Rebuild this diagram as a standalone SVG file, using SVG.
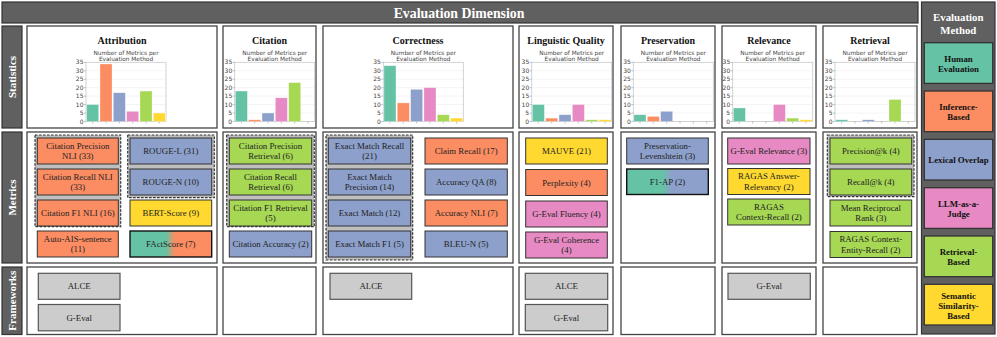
<svg xmlns="http://www.w3.org/2000/svg" xmlns:xlink="http://www.w3.org/1999/xlink" width="997" height="337" viewBox="0 0 997 337">
<style>
.dark{fill:#606060;stroke:#333;stroke-width:1.2}
.lbl{font-family:"Liberation Serif","Times New Roman",serif;font-weight:bold;fill:#fff;text-anchor:middle}
.panel{fill:#fff;stroke:#444;stroke-width:1.3}
.ttl{font-family:"Liberation Serif","Times New Roman",serif;font-weight:bold;font-size:10px;fill:#111;text-anchor:middle}
.ct{font-family:"DejaVu Sans",Verdana,sans-serif;font-size:5.8px;fill:#444;text-anchor:middle}
.tk{font-family:"DejaVu Sans",Verdana,sans-serif;font-size:6px;fill:#444;text-anchor:end}
.grid{stroke:#ececec;stroke-width:0.6}
.frame{fill:none;stroke:#c8c8c8;stroke-width:0.8}
.tick{stroke:#999;stroke-width:0.6}
.bar{stroke:#fff;stroke-opacity:0.45;stroke-width:0.6}
.grp{fill:#bfbfbf;stroke:#333;stroke-width:1.2;stroke-dasharray:2.5 1.5}
.m{stroke:#333;stroke-width:1}
.mt{font-family:"Liberation Serif","Times New Roman",serif;font-size:8.8px;fill:#222;text-anchor:middle}
.fw{fill:#ccc;stroke:#555;stroke-width:1.2}
.lg{stroke:#333;stroke-width:1.3}
.lt{font-family:"Liberation Serif","Times New Roman",serif;font-weight:bold;font-size:8.8px;fill:#111;text-anchor:middle}
.hu{fill:#66c2a5}.in{fill:#fc8d62}.lx{fill:#8da0cb}.lj{fill:#e78ac3}.rb{fill:#a6d854}.ss{fill:#ffd92f}
</style>
<defs>
<linearGradient id="gHuIn" x1="0" y1="0" x2="1" y2="0"><stop offset="0.44" stop-color="#66c2a5"/><stop offset="0.55" stop-color="#fc8d62"/></linearGradient>
<linearGradient id="gHuLx" x1="0" y1="0" x2="1" y2="0"><stop offset="0.44" stop-color="#66c2a5"/><stop offset="0.55" stop-color="#8da0cb"/></linearGradient>
<g id="chart">
<line class="grid" x1="0" x2="80" y1="113.05" y2="113.05"/>
<line class="grid" x1="0" x2="80" y1="104.59" y2="104.59"/>
<line class="grid" x1="0" x2="80" y1="96.14" y2="96.14"/>
<line class="grid" x1="0" x2="80" y1="87.68" y2="87.68"/>
<line class="grid" x1="0" x2="80" y1="79.22" y2="79.22"/>
<line class="grid" x1="0" x2="80" y1="70.77" y2="70.77"/>
<rect class="frame" x="0" y="62.3" width="80" height="59.2"/>
<g class="tick">
<line x1="-2" x2="0" y1="121.5" y2="121.5"/><line x1="-2" x2="0" y1="113.05" y2="113.05"/><line x1="-2" x2="0" y1="104.59" y2="104.59"/><line x1="-2" x2="0" y1="96.14" y2="96.14"/><line x1="-2" x2="0" y1="87.68" y2="87.68"/><line x1="-2" x2="0" y1="79.22" y2="79.22"/><line x1="-2" x2="0" y1="70.77" y2="70.77"/><line x1="-2" x2="0" y1="62.3" y2="62.3"/>
<line x1="6.67" x2="6.67" y1="121.5" y2="123.5"/><line x1="20" x2="20" y1="121.5" y2="123.5"/><line x1="33.33" x2="33.33" y1="121.5" y2="123.5"/><line x1="46.67" x2="46.67" y1="121.5" y2="123.5"/><line x1="60" x2="60" y1="121.5" y2="123.5"/><line x1="73.33" x2="73.33" y1="121.5" y2="123.5"/>
</g>
<text class="tk" x="-2.5" y="123.6">0</text>
<text class="tk" x="-2.5" y="115.1">5</text>
<text class="tk" x="-2.5" y="106.7">10</text>
<text class="tk" x="-2.5" y="98.2">15</text>
<text class="tk" x="-2.5" y="89.8">20</text>
<text class="tk" x="-2.5" y="81.3">25</text>
<text class="tk" x="-2.5" y="72.9">30</text>
<text class="tk" x="-2.5" y="64.4">35</text>
<text class="ct" x="40" y="55.2">Number of Metrics per</text>
<text class="ct" x="40" y="61.4">Evaluation Method</text>
</g>
</defs>

<!-- header and side labels -->
<g id="header">
<rect class="dark" x="2" y="2" width="916" height="21"/>
<text class="lbl" x="459" y="18" font-size="13.8">Evaluation Dimension</text>
</g>
<g id="row-statistics">
<rect class="dark" x="2" y="26" width="20" height="102"/>
<text class="lbl" font-size="11" transform="translate(16,77) rotate(-90)">Statistics</text>
</g>
<g id="row-metrics">
<rect class="dark" x="2" y="132" width="20" height="131"/>
<text class="lbl" font-size="11" transform="translate(16,197.5) rotate(-90)">Metrics</text>
</g>
<g id="row-frameworks">
<rect class="dark" x="2" y="267" width="20" height="67.5"/>
<text class="lbl" font-size="11" transform="translate(16,300.7) rotate(-90)">Frameworks</text>
</g>

<!-- panels -->
<g id="panels">
<rect class="panel" x="27" y="26" width="190" height="102"/>
<rect class="panel" x="223" y="26" width="93" height="102"/>
<rect class="panel" x="323" y="26" width="190" height="102"/>
<rect class="panel" x="519" y="26" width="94" height="102"/>
<rect class="panel" x="621" y="26" width="94" height="102"/>
<rect class="panel" x="722" y="26" width="94" height="102"/>
<rect class="panel" x="823" y="26" width="94" height="102"/>
<rect class="panel" x="27" y="132" width="190" height="131"/>
<rect class="panel" x="223" y="132" width="93" height="131"/>
<rect class="panel" x="323" y="132" width="190" height="131"/>
<rect class="panel" x="519" y="132" width="94" height="131"/>
<rect class="panel" x="621" y="132" width="94" height="131"/>
<rect class="panel" x="722" y="132" width="94" height="131"/>
<rect class="panel" x="823" y="132" width="94" height="131"/>
<rect class="panel" x="27" y="267" width="190" height="67.5"/>
<rect class="panel" x="223" y="267" width="93" height="67.5"/>
<rect class="panel" x="323" y="267" width="190" height="67.5"/>
<rect class="panel" x="519" y="267" width="94" height="67.5"/>
<rect class="panel" x="621" y="267" width="94" height="67.5"/>
<rect class="panel" x="722" y="267" width="94" height="67.5"/>
<rect class="panel" x="823" y="267" width="94" height="67.5"/>
</g>

<!-- statistics -->
<g id="stats-attribution">
<text class="ttl" x="122" y="43.5">Attribution</text>
<g transform="translate(86,0)"><use xlink:href="#chart"/>
<rect class="bar hu" x="0.67" y="104.59" width="12" height="16.91"/>
<rect class="bar in" x="14" y="64.01" width="12" height="57.49"/>
<rect class="bar lx" x="27.33" y="92.75" width="12" height="28.75"/>
<rect class="bar lj" x="40.67" y="111.35" width="12" height="10.15"/>
<rect class="bar rb" x="54" y="91.06" width="12" height="30.44"/>
<rect class="bar ss" x="67.33" y="113.04" width="12" height="8.46"/>
</g></g>
<g id="stats-citation">
<text class="ttl" x="269.5" y="43.5">Citation</text>
<g transform="translate(234.7,0)"><use xlink:href="#chart"/>
<rect class="bar hu" x="0.67" y="91.06" width="12" height="30.44"/>
<rect class="bar in" x="14" y="119.81" width="12" height="1.69"/>
<rect class="bar lx" x="27.33" y="113.04" width="12" height="8.46"/>
<rect class="bar lj" x="40.67" y="97.83" width="12" height="23.67"/>
<rect class="bar rb" x="54" y="82.61" width="12" height="38.89"/>
</g></g>
<g id="stats-correctness">
<text class="ttl" x="418" y="43.5">Correctness</text>
<g transform="translate(383.3,0)"><use xlink:href="#chart"/>
<rect class="bar hu" x="0.67" y="65.7" width="12" height="55.8"/>
<rect class="bar in" x="14" y="102.9" width="12" height="18.6"/>
<rect class="bar lx" x="27.33" y="89.37" width="12" height="32.13"/>
<rect class="bar lj" x="40.67" y="87.68" width="12" height="33.82"/>
<rect class="bar rb" x="54" y="114.74" width="12" height="6.76"/>
<rect class="bar ss" x="67.33" y="118.12" width="12" height="3.38"/>
</g></g>
<g id="stats-linguistic">
<text class="ttl" x="566" y="43.5">Linguistic Quality</text>
<g transform="translate(531.7,0)"><use xlink:href="#chart"/>
<rect class="bar hu" x="0.67" y="104.59" width="12" height="16.91"/>
<rect class="bar in" x="14" y="118.12" width="12" height="3.38"/>
<rect class="bar lx" x="27.33" y="114.74" width="12" height="6.76"/>
<rect class="bar lj" x="40.67" y="104.59" width="12" height="16.91"/>
<rect class="bar rb" x="54" y="119.81" width="12" height="1.69"/>
<rect class="bar ss" x="67.33" y="119.81" width="12" height="1.69"/>
</g></g>
<g id="stats-preservation">
<text class="ttl" x="668" y="43.5">Preservation</text>
<g transform="translate(633.3,0)"><use xlink:href="#chart"/>
<rect class="bar hu" x="0.67" y="114.74" width="12" height="6.76"/>
<rect class="bar in" x="14" y="116.43" width="12" height="5.07"/>
<rect class="bar lx" x="27.33" y="111.35" width="12" height="10.15"/>
</g></g>
<g id="stats-relevance">
<text class="ttl" x="769" y="43.5">Relevance</text>
<g transform="translate(732.7,0)"><use xlink:href="#chart"/>
<rect class="bar hu" x="0.67" y="107.97" width="12" height="13.53"/>
<rect class="bar lj" x="40.67" y="104.59" width="12" height="16.91"/>
<rect class="bar rb" x="54" y="118.12" width="12" height="3.38"/>
<rect class="bar ss" x="67.33" y="119.81" width="12" height="1.69"/>
</g></g>
<g id="stats-retrieval">
<text class="ttl" x="870" y="43.5">Retrieval</text>
<g transform="translate(835,0)"><use xlink:href="#chart"/>
<rect class="bar hu" x="0.67" y="119.81" width="12" height="1.69"/>
<rect class="bar lx" x="27.33" y="119.81" width="12" height="1.69"/>
<rect class="bar rb" x="54" y="99.52" width="12" height="21.98"/>
</g></g>

<!-- dashed groups -->
<g id="groups">
<rect class="grp" x="35" y="135" width="85.7" height="91.7"/>
<rect class="grp" x="127.7" y="135" width="86.6" height="62.7"/>
<rect class="grp" x="226.7" y="135" width="87.6" height="91.7"/>
<rect class="grp" x="326" y="135" width="86.7" height="125"/>
<rect class="grp" x="827.3" y="135" width="86.7" height="61.7"/>
</g>

<!-- metrics: Attribution -->
<g id="m-cit-prec-nli"><rect class="m in" x="37.3" y="138" width="81" height="26"/><text class="mt" x="77.8" y="148.5">Citation Precision</text><text class="mt" x="77.8" y="159">NLI (33)</text></g>
<g id="m-cit-rec-nli"><rect class="m in" x="37.3" y="169" width="81" height="26"/><text class="mt" x="77.8" y="179.5">Citation Recall NLI</text><text class="mt" x="77.8" y="190">(33)</text></g>
<g id="m-cit-f1-nli"><rect class="m in" x="37.3" y="200" width="81" height="26"/><text class="mt" x="77.8" y="216">Citation F1 NLI (16)</text></g>
<g id="m-auto-ais"><rect class="m in" x="37.3" y="231" width="81" height="26"/><text class="mt" x="77.8" y="241.5">Auto-AIS-sentence</text><text class="mt" x="77.8" y="252">(11)</text></g>
<g id="m-rouge-l"><rect class="m lx" x="130" y="138" width="81.7" height="26"/><text class="mt" x="170.8" y="154">ROUGE-L (31)</text></g>
<g id="m-rouge-n"><rect class="m lx" x="130" y="169" width="81.7" height="26"/><text class="mt" x="170.8" y="185">ROUGE-N (10)</text></g>
<g id="m-bertscore"><rect class="m ss" x="130" y="200" width="81.7" height="26"/><text class="mt" x="170.8" y="216">BERT-Score (9)</text></g>
<g id="m-factscore"><rect x="130" y="231" width="81.7" height="26" fill="url(#gHuIn)" stroke="#111" stroke-width="1.4"/><text class="mt" x="170.8" y="247">FActScore (7)</text></g>

<!-- Citation -->
<g id="m-cit-prec-ret"><rect class="m rb" x="229.3" y="138" width="82.4" height="26"/><text class="mt" x="270.5" y="148.5">Citation Precision</text><text class="mt" x="270.5" y="159">Retrieval (6)</text></g>
<g id="m-cit-rec-ret"><rect class="m rb" x="229.3" y="169" width="82.4" height="26"/><text class="mt" x="270.5" y="179.5">Citation Recall</text><text class="mt" x="270.5" y="190">Retrieval (6)</text></g>
<g id="m-cit-f1-ret"><rect class="m rb" x="229.3" y="200" width="82.4" height="26"/><text class="mt" x="270.5" y="210.5">Citation F1 Retrieval</text><text class="mt" x="270.5" y="221">(5)</text></g>
<g id="m-cit-acc"><rect class="m lx" x="229.3" y="231" width="82.4" height="26"/><text class="mt" x="270.5" y="247">Citation Accuracy (2)</text></g>

<!-- Correctness -->
<g id="m-em-recall"><rect class="m lx" x="328.3" y="138" width="82.4" height="26"/><text class="mt" x="369.5" y="148.5">Exact Match Recall</text><text class="mt" x="369.5" y="159">(21)</text></g>
<g id="m-em-prec"><rect class="m lx" x="328.3" y="169" width="82.4" height="26"/><text class="mt" x="369.5" y="179.5">Exact Match</text><text class="mt" x="369.5" y="190">Precision (14)</text></g>
<g id="m-em"><rect class="m lx" x="328.3" y="200" width="82.4" height="26"/><text class="mt" x="369.5" y="216">Exact Match (12)</text></g>
<g id="m-em-f1"><rect class="m lx" x="328.3" y="231" width="82.4" height="26"/><text class="mt" x="369.5" y="247">Exact Match F1 (5)</text></g>
<g id="m-claim-recall"><rect class="m in" x="425" y="138" width="82.3" height="26"/><text class="mt" x="466.2" y="154">Claim Recall (17)</text></g>
<g id="m-acc-qa"><rect class="m lx" x="425" y="169" width="82.3" height="26"/><text class="mt" x="466.2" y="185">Accuracy QA (8)</text></g>
<g id="m-acc-nli"><rect class="m in" x="425" y="200" width="82.3" height="26"/><text class="mt" x="466.2" y="216">Accuracy NLI (7)</text></g>
<g id="m-bleu"><rect class="m lx" x="425" y="231" width="82.3" height="26"/><text class="mt" x="466.2" y="247">BLEU-N (5)</text></g>

<!-- Linguistic Quality -->
<g id="m-mauve"><rect class="m ss" x="525.7" y="138" width="81.6" height="26"/><text class="mt" x="566.5" y="154">MAUVE (21)</text></g>
<g id="m-perplexity"><rect class="m in" x="525.7" y="169.5" width="81.6" height="26"/><text class="mt" x="566.5" y="185.5">Perplexity (4)</text></g>
<g id="m-geval-flu"><rect class="m lj" x="525.7" y="201" width="81.6" height="26"/><text class="mt" x="566.5" y="217">G-Eval Fluency (4)</text></g>
<g id="m-geval-coh"><rect class="m lj" x="525.7" y="232" width="81.6" height="26"/><text class="mt" x="566.5" y="242.5">G-Eval Coherence</text><text class="mt" x="566.5" y="253">(4)</text></g>

<!-- Preservation -->
<g id="m-pres-lev"><rect class="m lx" x="626.7" y="138" width="81.6" height="26"/><text class="mt" x="667.5" y="148.5">Preservation-</text><text class="mt" x="667.5" y="159">Levenshtein (3)</text></g>
<g id="m-f1ap"><rect x="626.7" y="169" width="81.6" height="25.5" fill="url(#gHuLx)" stroke="#111" stroke-width="1.4"/><text class="mt" x="667.5" y="185">F1-AP (2)</text></g>

<!-- Relevance -->
<g id="m-geval-rel"><rect class="m lj" x="727.7" y="138" width="82.3" height="26"/><text class="mt" x="768.9" y="154">G-Eval Relevance (3)</text></g>
<g id="m-ragas-ans"><rect class="m ss" x="727.7" y="168.5" width="82.3" height="26"/><text class="mt" x="768.9" y="179">RAGAS Answer-</text><text class="mt" x="768.9" y="189.5">Relevancy (2)</text></g>
<g id="m-ragas-ctx"><rect class="m rb" x="727.7" y="199" width="82.3" height="26"/><text class="mt" x="768.9" y="209.5">RAGAS</text><text class="mt" x="768.9" y="220">Context-Recall (2)</text></g>

<!-- Retrieval -->
<g id="m-prec-k"><rect class="m rb" x="830" y="138" width="81.7" height="26"/><text class="mt" x="870.8" y="154">Precision@k (4)</text></g>
<g id="m-rec-k"><rect class="m rb" x="830" y="169" width="81.7" height="26"/><text class="mt" x="870.8" y="185">Recall@k (4)</text></g>
<g id="m-mrr"><rect class="m rb" x="830" y="200" width="81.7" height="26"/><text class="mt" x="870.8" y="210.5">Mean Reciprocal</text><text class="mt" x="870.8" y="221">Rank (3)</text></g>
<g id="m-ragas-ent"><rect class="m rb" x="830" y="231.5" width="81.7" height="26"/><text class="mt" x="870.8" y="242">RAGAS Context-</text><text class="mt" x="870.8" y="252.5">Entity-Recall (2)</text></g>

<!-- frameworks -->
<g id="fw-attr-alce"><rect class="fw" x="38.3" y="273.3" width="81.7" height="26"/><text class="mt" x="79.2" y="289.3">ALCE</text></g>
<g id="fw-attr-geval"><rect class="fw" x="38.3" y="304.5" width="81.7" height="26.3"/><text class="mt" x="79.2" y="320.5">G-Eval</text></g>
<g id="fw-corr-alce"><rect class="fw" x="330" y="273.3" width="81.7" height="26"/><text class="mt" x="370.9" y="289.3">ALCE</text></g>
<g id="fw-ling-alce"><rect class="fw" x="525.3" y="273.3" width="82.4" height="26"/><text class="mt" x="566.5" y="289.3">ALCE</text></g>
<g id="fw-ling-geval"><rect class="fw" x="525.3" y="304.5" width="82.4" height="26.3"/><text class="mt" x="566.5" y="320.5">G-Eval</text></g>
<g id="fw-rel-geval"><rect class="fw" x="728" y="273.3" width="82.3" height="26"/><text class="mt" x="769.2" y="289.3">G-Eval</text></g>

<!-- legend -->
<g id="legend">
<rect class="dark" x="921.5" y="2" width="73.5" height="332"/>
<text class="lbl" font-size="10.8" x="958.3" y="20.5">Evaluation</text>
<text class="lbl" font-size="10.8" x="958.3" y="34">Method</text>
</g>
<g id="lg-human"><rect class="lg hu" x="924.3" y="42.7" width="68.4" height="40.7"/><text class="lt" x="958.5" y="62">Human</text><text class="lt" x="958.5" y="72">Evaluation</text></g>
<g id="lg-inference"><rect class="lg in" x="924.3" y="91" width="68.4" height="40.7"/><text class="lt" x="958.5" y="110.3">Inference-</text><text class="lt" x="958.5" y="120.3">Based</text></g>
<g id="lg-lexical"><rect class="lg lx" x="924.3" y="139.3" width="68.4" height="40.7"/><text class="lt" x="958.5" y="162.7">Lexical Overlap</text></g>
<g id="lg-llm"><rect class="lg lj" x="924.3" y="187.7" width="68.4" height="40.7"/><text class="lt" x="958.5" y="207">LLM-as-a-</text><text class="lt" x="958.5" y="217">Judge</text></g>
<g id="lg-retrieval"><rect class="lg rb" x="924.3" y="236" width="68.4" height="40.7"/><text class="lt" x="958.5" y="255.3">Retrieval-</text><text class="lt" x="958.5" y="265.3">Based</text></g>
<g id="lg-semantic"><rect class="lg ss" x="924.3" y="284.3" width="68.4" height="40.7"/><text class="lt" x="958.5" y="298.5">Semantic</text><text class="lt" x="958.5" y="308.5">Similarity-</text><text class="lt" x="958.5" y="318.5">Based</text></g>
</svg>
